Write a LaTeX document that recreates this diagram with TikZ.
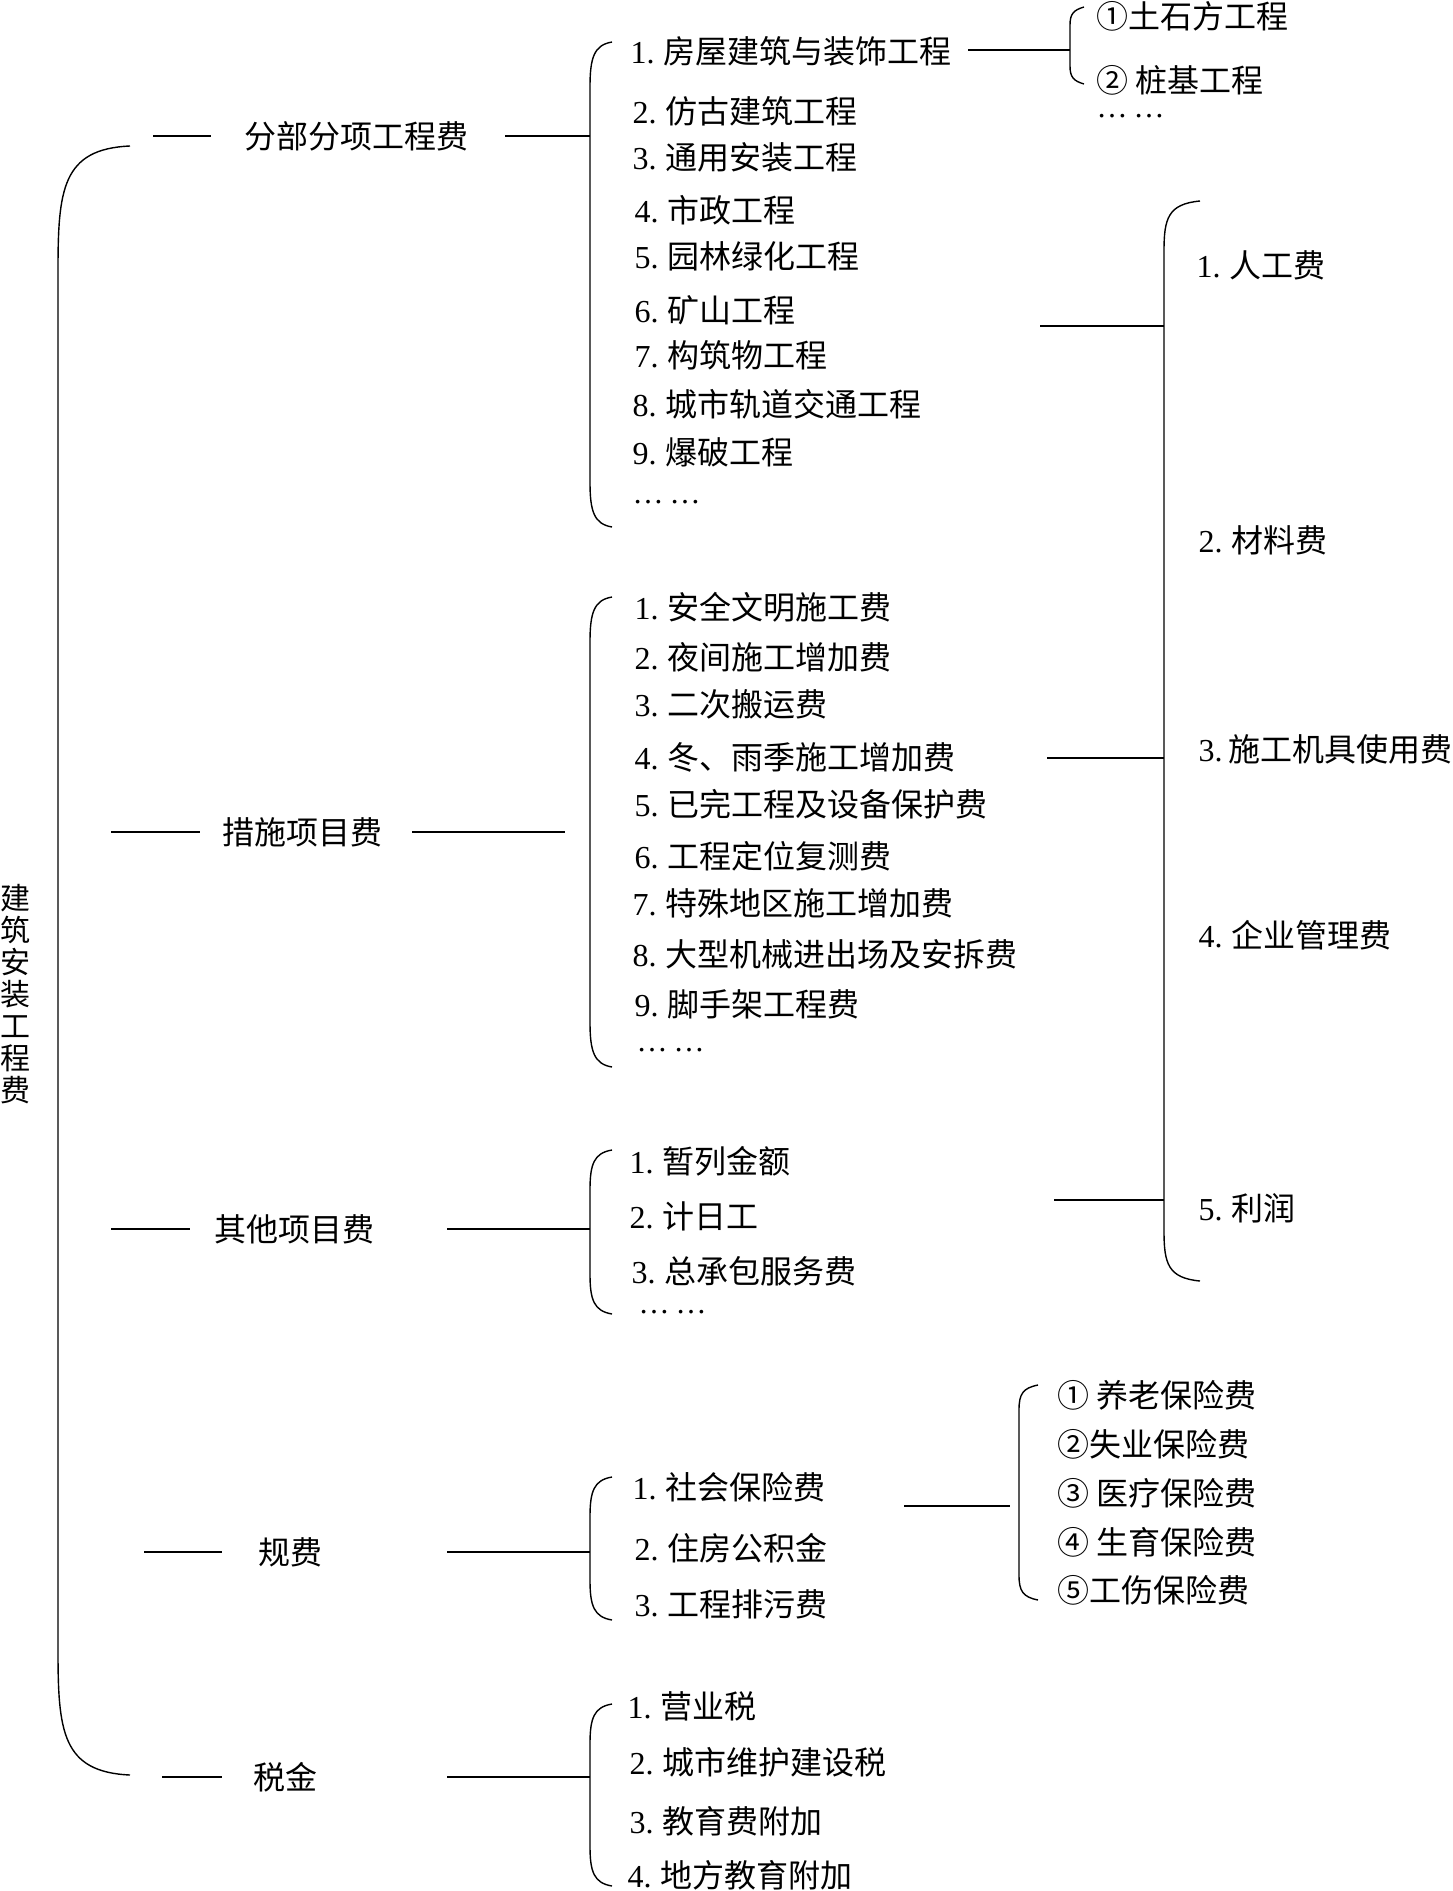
\documentclass[tikz,border=0pt]{standalone}
\usepackage{fontspec}
\setmainfont{Liberation Serif}
\newfontfamily\cjk{Noto Sans CJK SC}
\newcommand\nm[1]{{\rmfamily #1.}\hspace{9pt}}
\newcommand\mybrk[5]{% xv, xe, ytop, ybot, curve length
  \draw (#2,#3) .. controls ({#1+4},{#3+3}) and (#1,{#3+0.35*#5}) .. (#1,{#3+#5})
    -- (#1,{#4-#5}) .. controls (#1,{#4-0.35*#5}) and ({#1+4},{#4-3}) .. (#2,#4);}
\begin{document}
\begin{tikzpicture}[x=1pt,y=-1pt,line width=1.4pt,
  lbl/.style={anchor=west,inner sep=0pt,font={\cjk\fontsize{32}{32}\selectfont}},
  top/.style={inner sep=0pt,font={\cjk\fontsize{32}{32}\selectfont}},
  dots/.style={anchor=west,inner sep=0pt,font={\rmfamily\fontsize{31}{31}\selectfont}}]
\useasboundingbox (0,0) rectangle (1453,1891);
% root
\node[inner sep=0pt,align=center,font={\cjk\fontsize{30}{32}\selectfont}] (root) at (16,994) {建\\筑\\安\\装\\工\\程\\费};
\mybrk{58}{130}{146}{1775}{125}
% level 1
\node[top] (a1) at (356,136) {分部分项工程费};
\node[top] (a2) at (302,832) {措施项目费};
\node[top] (a3) at (294,1229) {其他项目费};
\node[top] (a4) at (290,1552) {规费};
\node[top] (a5) at (285,1777) {税金};
\draw (153,136) -- (211,136); \draw (505,136) -- (590,136);
\draw (111,832) -- (200,832); \draw (412,832) -- (565,832);
\draw (111,1229) -- (190,1229); \draw (447,1229) -- (590,1229);
\draw (144,1552) -- (222,1552); \draw (447,1552) -- (590,1552);
\draw (162,1777) -- (222,1777); \draw (447,1777) -- (590,1777);
% group brackets
\mybrk{590}{612}{42}{527}{45}
\mybrk{590}{612}{597}{1067}{45}
\mybrk{590}{612}{1150}{1314}{40}
\mybrk{590}{612}{1477}{1620}{40}
\mybrk{590}{612}{1704}{1886}{40}
% group 1
\node[lbl] (b1) at (630,51) {\nm{1}房屋建筑与装饰工程};
\node[lbl] (b2) at (632,111) {\nm{2}仿古建筑工程};
\node[lbl] (b3) at (632,157) {\nm{3}通用安装工程};
\node[lbl] (b4) at (634,210) {\nm{4}市政工程};
\node[lbl] (b5) at (634,256) {\nm{5}园林绿化工程};
\node[lbl] (b6) at (634,310) {\nm{6}矿山工程};
\node[lbl] (b7) at (634,355) {\nm{7}构筑物工程};
\node[lbl] (b8) at (632,404) {\nm{8}城市轨道交通工程};
\node[lbl] (b9) at (632,452) {\nm{9}爆破工程};
\node[dots] (b10) at (632,502) {…\hspace{6pt}…};
% sub of 1
\draw (968,50) -- (1070,50);
\mybrk{1070}{1084}{7}{84}{18}
\node[lbl] (c1) at (1096,16) {①土石方工程};
\node[lbl] (c2) at (1096,80) {② 桩基工程};
\node[dots] (c3) at (1096,116) {…\hspace{6pt}…};
% group 2
\node[lbl] (d1) at (634,607) {\nm{1}安全文明施工费};
\node[lbl] (d2) at (634,657) {\nm{2}夜间施工增加费};
\node[lbl] (d3) at (634,704) {\nm{3}二次搬运费};
\node[lbl] (d4) at (634,757) {\nm{4}冬、雨季施工增加费};
\node[lbl] (d5) at (634,804) {\nm{5}已完工程及设备保护费};
\node[lbl] (d6) at (634,856) {\nm{6}工程定位复测费};
\node[lbl] (d7) at (632,903) {\nm{7}特殊地区施工增加费};
\node[lbl] (d8) at (632,954) {\nm{8}大型机械进出场及安拆费};
\node[lbl] (d9) at (634,1004) {\nm{9}脚手架工程费};
\node[dots] (d10) at (636,1050) {…\hspace{6pt}…};
% group 3
\node[lbl] (e1) at (629,1161) {\nm{1}暂列金额};
\node[lbl] (e2) at (629,1216) {\nm{2}计日工};
\node[lbl] (e3) at (631,1271) {\nm{3}总承包服务费};
\node[dots] (e4) at (638,1312) {…\hspace{6pt}…};
% group 4
\node[lbl] (f1) at (632,1487) {\nm{1}社会保险费};
\node[lbl] (f2) at (634,1548) {\nm{2}住房公积金};
\node[lbl] (f3) at (634,1604) {\nm{3}工程排污费};
\draw (904,1506) -- (1010,1506);
\mybrk{1019}{1038}{1385}{1600}{25}
\node[lbl] (h1) at (1057,1395) {① 养老保险费};
\node[lbl] (h2) at (1057,1444) {②失业保险费};
\node[lbl] (h3) at (1057,1493) {③ 医疗保险费};
\node[lbl] (h4) at (1057,1542) {④ 生育保险费};
\node[lbl] (h5) at (1057,1590) {⑤工伤保险费};
% group 5
\node[lbl] (k1) at (627,1706) {\nm{1}营业税};
\node[lbl] (k2) at (629,1762) {\nm{2}城市维护建设税};
\node[lbl] (k3) at (629,1821) {\nm{3}教育费附加};
\node[lbl] (k4) at (627,1875) {\nm{4}地方教育附加};
% right bracket
\mybrk{1164}{1200}{201}{1281}{50}
\draw (1040,326) -- (1164,326);
\draw (1047,758) -- (1164,758);
\draw (1054,1200) -- (1164,1200);
\node[lbl] (r1) at (1196,265) {\nm{1}人工费};
\node[lbl] (r2) at (1198,540) {\nm{2}材料费};
\node[lbl] (r3) at (1198,749) {{\rmfamily 3.}\hspace{6pt}施工机具使用费};
\node[lbl] (r4) at (1198,935) {\nm{4}企业管理费};
\node[lbl] (r5) at (1198,1208) {\nm{5}利润};
\end{tikzpicture}
\end{document}
